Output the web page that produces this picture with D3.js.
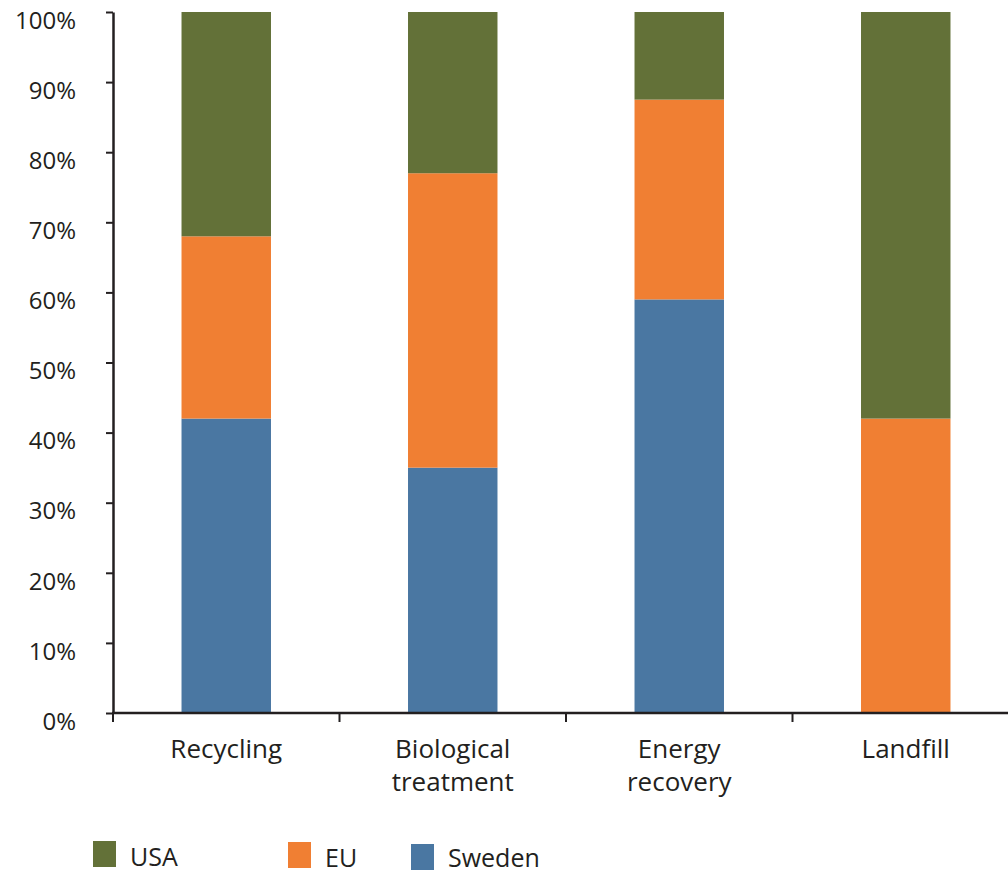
<!DOCTYPE html>
<html><head><meta charset="utf-8">
<script src="https://cdn.jsdelivr.net/npm/d3@7"></script>
<style>html,body{margin:0;padding:0;background:#fff;}svg{display:block;}</style>
</head><body>
<svg id="chart" width="1008" height="874"></svg>
<script>
const categories = [["Recycling"], ["Biological", "treatment"], ["Energy", "recovery"], ["Landfill"]];
const seriesNames = ["Sweden", "EU", "USA"];
const sweden = [42, 35, 59, 0];
const eu = [26, 42, 28.5, 42];
const usa = [32, 23, 12.5, 58];
const yTicks = [0, 10, 20, 30, 40, 50, 60, 70, 80, 90, 100];
const legendOrder = ["USA", "EU", "Sweden"];
const colors = {USA: "#637138", EU: "#f07f33", Sweden: "#4a77a2"};

const font = "'Open Sans', sans-serif";
const ink = "#231f20";
const svg = d3.select("#chart");
const keys = categories.map(c => c.join(" "));
const rows = keys.map((k, i) => ({key: k, Sweden: sweden[i], EU: eu[i], USA: usa[i]}));
const stack = d3.stack().keys(seriesNames)(rows);

const x = d3.scaleBand().domain(keys).range([113, 1019]).paddingInner(0.605).paddingOuter(0.3025);
const y = d3.scaleLinear().domain([0, 100]).range([713, 12]);

svg.append("g").selectAll("g").data(stack).join("g")
  .attr("fill", d => colors[d.key])
  .selectAll("rect").data(d => d).join("rect")
  .attr("x", d => x(d.data.key))
  .attr("width", x.bandwidth())
  .attr("y", d => y(d[1]))
  .attr("height", d => y(d[0]) - y(d[1]));

// y axis
const ya = svg.append("g").attr("transform", "translate(113,0)")
  .call(d3.axisLeft(y).tickValues(yTicks).tickFormat(d => d + "%").tickSize(7).tickSizeOuter(0));
ya.select(".domain").attr("stroke", ink).attr("stroke-width", 2.5);
ya.selectAll(".tick line").attr("stroke", ink).attr("stroke-width", 2);
ya.selectAll(".tick text").attr("font-family", font).attr("font-size", 24).attr("fill", ink)
  .attr("x", -37).attr("dy", "1.05em").attr("y", -9);

// x axis
const xa = svg.append("g").attr("transform", "translate(0,713)");
xa.append("line").attr("x1", 112).attr("x2", 1019).attr("stroke", ink).attr("stroke-width", 2.5);
const bounds = [0, 1, 2, 3, 4].map(i => x.range()[0] + i * x.step());
xa.selectAll("line.t").data(bounds).join("line").attr("class", "t")
  .attr("x1", d => d).attr("x2", d => d).attr("y1", 0).attr("y2", 9)
  .attr("stroke", ink).attr("stroke-width", 2);
const lab = xa.selectAll("text").data(categories).join("text")
  .attr("font-family", font).attr("font-size", 26).attr("fill", ink).attr("text-anchor", "middle")
  .attr("x", (d, i) => x(keys[i]) + x.bandwidth() / 2).attr("y", 45);
lab.selectAll("tspan").data(d => d).join("tspan")
  .attr("x", function() { return this.parentNode.getAttribute("x"); })
  .attr("dy", (d, i) => i === 0 ? 0 : 33).text(d => d);

// legend
const legX = [93, 288, 411];
const legY = [841, 842, 844];
const lg = svg.append("g").selectAll("g").data(legendOrder).join("g")
  .attr("transform", (d, i) => `translate(${legX[i]},${legY[i]})`);
lg.append("rect").attr("width", 23).attr("height", 26).attr("fill", d => colors[d]);
lg.append("text").attr("x", 37).attr("y", (d, i) => 25 - (i === 2 ? 2 : 0)).attr("font-family", font).attr("font-size", 25)
  .attr("fill", ink).text(d => d);
</script>
</body></html>
